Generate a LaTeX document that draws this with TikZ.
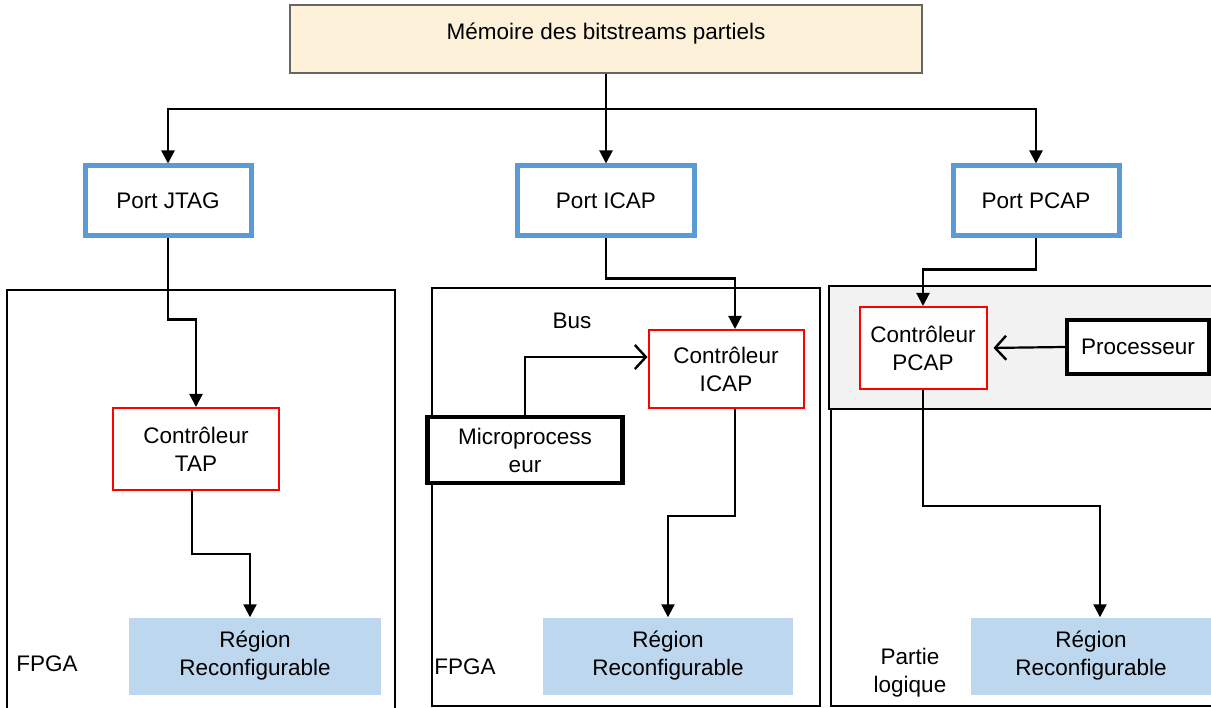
\documentclass[tikz,border=0pt]{standalone}
\usepackage{fontspec}
\setmainfont{Liberation Sans}
\usetikzlibrary{arrows.meta}
\definecolor{memfill}{HTML}{FDF1D9}
\definecolor{portblue}{HTML}{5B9BD5}
\definecolor{regfill}{HTML}{BDD7EE}
\definecolor{zonegray}{HTML}{F2F2F2}
\begin{document}
\begin{tikzpicture}[x=1pt, y=-1pt,
    every node/.style={font=\fontsize{22.5}{28}\selectfont, align=center},
    port/.style={draw=portblue, line width=5pt, fill=white, minimum height=70},
    ctrl/.style={draw=red, line width=2pt, fill=white},
    cpu/.style={draw, line width=4.5pt, fill=white},
    region/.style={fill=regfill, minimum height=77},
    link/.style={line width=2.2pt, -{Triangle[length=13pt, width=13pt]}},
    buslink/.style={line width=2.2pt, -{Straight Barb[length=11pt, width=24pt, line width=2.4pt]}}]
  \useasboundingbox (0,0) rectangle (1211,708);
  % cadres FPGA
  \draw[line width=1.6pt] (7,290) rectangle (395,715);
  \draw[line width=1.6pt] (432,288) rectangle (820,706);
  \draw[line width=1.6pt, fill=zonegray] (829,286) rectangle (1215,409);
  \draw[line width=1.6pt] (831,409) -- (831,706) -- (1215,706);

  \node[draw=black!60, line width=1.4pt, fill=memfill, minimum width=632, minimum height=68,
        text height=16, text depth=14] (mem) at (606,39) {Mémoire des bitstreams partiels};
  \node[port, minimum width=166] (jtag) at (168,201) {Port JTAG};
  \node[port, minimum width=177] (icapport) at (606,201) {Port ICAP};
  \node[port, minimum width=166] (pcapport) at (1036,201) {Port PCAP};

  \node[ctrl, minimum width=166, minimum height=82] (tap) at (196,449) {Contrôleur\\TAP};
  \node[ctrl, minimum width=155, minimum height=78] (ctrlicap) at (726,369) {Contrôleur\\ICAP};
  \node[ctrl, minimum width=127, minimum height=82] (ctrlpcap) at (923,348) {Contrôleur\\PCAP};
  \node[cpu, minimum width=195, minimum height=66] (micro) at (525,450) {Microprocess\\eur};
  \node[cpu, minimum width=142, minimum height=54] (proc) at (1138,347) {Processeur};

  \node[region, minimum width=252] (reg1) at (255,656) {Région\\Reconfigurable};
  \node[region, minimum width=250] (reg2) at (668,656) {Région\\Reconfigurable};
  \node[region, minimum width=240] (reg3) at (1091,656) {Région\\Reconfigurable};

  \node (bus) at (572,321) {Bus};
  \node (fpgaa) at (47,664) {FPGA};
  \node (fpgab) at (465,667) {FPGA};
  \node (partie) at (910,673) {Partie\\logique};

  % liaisons
  \coordinate (split) at ([yshift=-35]mem.south);
  \draw[line width=2.2pt] (mem.south) -- (split);
  \draw[link] (split) -| (jtag.north);
  \draw[link] (split) -- (icapport.north);
  \draw[link] (split) -| (pcapport.north);
  \draw[link] (jtag.south) -- ++(0,81) -| (tap.north);
  \draw[link] ([xshift=-4]tap.south) -- ++(0,63) -| ([xshift=-5]reg1.north);
  \draw[link] (icapport.south) -- ++(0,40) -| ([xshift=9]ctrlicap.north);
  \draw[link] ([xshift=9]ctrlicap.south) -- ++(0,107) -| (reg2.north);
  \draw[buslink] (micro.north) |- ([yshift=12]ctrlicap.west);
  \draw[link] (pcapport.south) -- ++(0,31) -| (ctrlpcap.north);
  \draw[buslink, shorten >=6pt] (proc.west) -- (ctrlpcap.east);
  \draw[link] (ctrlpcap.south) -- ++(0,116) -| ([xshift=9]reg3.north);
\end{tikzpicture}
\end{document}
